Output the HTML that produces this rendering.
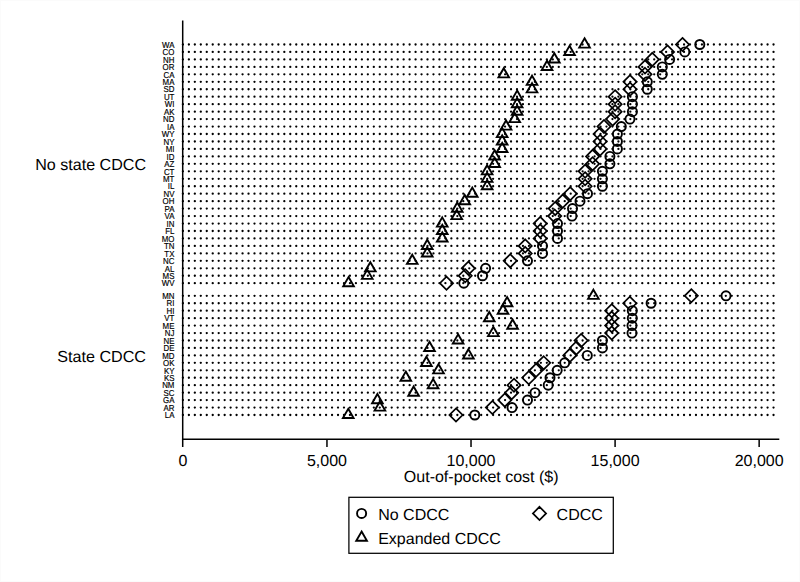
<!DOCTYPE html>
<html><head><meta charset="utf-8"><title>Out-of-pocket cost</title>
<style>
html,body{margin:0;padding:0;background:#fff;}
body{width:800px;height:582px;overflow:hidden;font-family:"Liberation Sans",sans-serif;}
svg{display:block;}
text{font-family:"Liberation Sans",sans-serif;fill:#000;text-rendering:geometricPrecision;}
.st{font-size:8px;text-anchor:end;stroke:#000;stroke-width:0.15px;}
.big{font-size:16px;}
.mk{fill:none;stroke:#000;stroke-linejoin:miter;}
</style></head><body>
<svg width="800" height="582" viewBox="0 0 800 582">
<rect x="0" y="0" width="800" height="582" fill="#fff"/>
<rect x="0.5" y="0.5" width="799" height="581" fill="none" stroke="#fbfbfb" stroke-width="1"/>

<g id="dotrows" stroke="#000" stroke-width="2.3" stroke-linecap="round" stroke-dasharray="0 5.966" fill="none">
<line x1="182.90" y1="44.50" x2="774.03" y2="44.50"/>
<line x1="182.90" y1="51.96" x2="774.03" y2="51.96"/>
<line x1="182.90" y1="59.42" x2="774.03" y2="59.42"/>
<line x1="182.90" y1="66.88" x2="774.03" y2="66.88"/>
<line x1="182.90" y1="74.34" x2="774.03" y2="74.34"/>
<line x1="182.90" y1="81.80" x2="774.03" y2="81.80"/>
<line x1="182.90" y1="89.26" x2="774.03" y2="89.26"/>
<line x1="182.90" y1="96.72" x2="774.03" y2="96.72"/>
<line x1="182.90" y1="104.18" x2="774.03" y2="104.18"/>
<line x1="182.90" y1="111.64" x2="774.03" y2="111.64"/>
<line x1="182.90" y1="119.10" x2="774.03" y2="119.10"/>
<line x1="182.90" y1="126.56" x2="774.03" y2="126.56"/>
<line x1="182.90" y1="134.02" x2="774.03" y2="134.02"/>
<line x1="182.90" y1="141.48" x2="774.03" y2="141.48"/>
<line x1="182.90" y1="148.94" x2="774.03" y2="148.94"/>
<line x1="182.90" y1="156.40" x2="774.03" y2="156.40"/>
<line x1="182.90" y1="163.86" x2="774.03" y2="163.86"/>
<line x1="182.90" y1="171.32" x2="774.03" y2="171.32"/>
<line x1="182.90" y1="178.78" x2="774.03" y2="178.78"/>
<line x1="182.90" y1="186.24" x2="774.03" y2="186.24"/>
<line x1="182.90" y1="193.70" x2="774.03" y2="193.70"/>
<line x1="182.90" y1="201.16" x2="774.03" y2="201.16"/>
<line x1="182.90" y1="208.62" x2="774.03" y2="208.62"/>
<line x1="182.90" y1="216.08" x2="774.03" y2="216.08"/>
<line x1="182.90" y1="223.54" x2="774.03" y2="223.54"/>
<line x1="182.90" y1="231.00" x2="774.03" y2="231.00"/>
<line x1="182.90" y1="238.46" x2="774.03" y2="238.46"/>
<line x1="182.90" y1="245.92" x2="774.03" y2="245.92"/>
<line x1="182.90" y1="253.38" x2="774.03" y2="253.38"/>
<line x1="182.90" y1="260.84" x2="774.03" y2="260.84"/>
<line x1="182.90" y1="268.30" x2="774.03" y2="268.30"/>
<line x1="182.90" y1="275.76" x2="774.03" y2="275.76"/>
<line x1="182.90" y1="283.22" x2="774.03" y2="283.22"/>
<line x1="182.90" y1="295.80" x2="774.03" y2="295.80"/>
<line x1="182.90" y1="303.25" x2="774.03" y2="303.25"/>
<line x1="182.90" y1="310.70" x2="774.03" y2="310.70"/>
<line x1="182.90" y1="318.15" x2="774.03" y2="318.15"/>
<line x1="182.90" y1="325.60" x2="774.03" y2="325.60"/>
<line x1="182.90" y1="333.05" x2="774.03" y2="333.05"/>
<line x1="182.90" y1="340.50" x2="774.03" y2="340.50"/>
<line x1="182.90" y1="347.95" x2="774.03" y2="347.95"/>
<line x1="182.90" y1="355.40" x2="774.03" y2="355.40"/>
<line x1="182.90" y1="362.85" x2="774.03" y2="362.85"/>
<line x1="182.90" y1="370.30" x2="774.03" y2="370.30"/>
<line x1="182.90" y1="377.75" x2="774.03" y2="377.75"/>
<line x1="182.90" y1="385.20" x2="774.03" y2="385.20"/>
<line x1="182.90" y1="392.65" x2="774.03" y2="392.65"/>
<line x1="182.90" y1="400.10" x2="774.03" y2="400.10"/>
<line x1="182.90" y1="407.55" x2="774.03" y2="407.55"/>
<line x1="182.90" y1="415.00" x2="774.03" y2="415.00"/>
</g>
<g stroke="#000" stroke-width="1.5" fill="none" stroke-linecap="butt">
<line x1="182.7" y1="20.5" x2="182.7" y2="447.1"/>
<line x1="181.95" y1="439.15" x2="779.3" y2="439.15"/>
<line x1="326.96" y1="439.15" x2="326.96" y2="447.1"/>
<line x1="471.02" y1="439.15" x2="471.02" y2="447.1"/>
<line x1="615.09" y1="439.15" x2="615.09" y2="447.1"/>
<line x1="759.15" y1="439.15" x2="759.15" y2="447.1"/>
</g>
<g class="st">
<text transform="translate(174.4 47.70) scale(0.985 1.07)">WA</text>
<text transform="translate(174.4 55.16) scale(0.985 1.07)">CO</text>
<text transform="translate(174.4 62.62) scale(0.985 1.07)">NH</text>
<text transform="translate(174.4 70.08) scale(0.985 1.07)">OR</text>
<text transform="translate(174.4 77.54) scale(0.985 1.07)">CA</text>
<text transform="translate(174.4 85.00) scale(0.985 1.07)">MA</text>
<text transform="translate(174.4 92.46) scale(0.985 1.07)">SD</text>
<text transform="translate(174.4 99.92) scale(0.985 1.07)">UT</text>
<text transform="translate(174.4 107.38) scale(0.985 1.07)">WI</text>
<text transform="translate(174.4 114.84) scale(0.985 1.07)">AK</text>
<text transform="translate(174.4 122.30) scale(0.985 1.07)">ND</text>
<text transform="translate(174.4 129.76) scale(0.985 1.07)">IA</text>
<text transform="translate(174.4 137.22) scale(0.985 1.07)">WY</text>
<text transform="translate(174.4 144.68) scale(0.985 1.07)">NY</text>
<text transform="translate(174.4 152.14) scale(0.985 1.07)">MI</text>
<text transform="translate(174.4 159.60) scale(0.985 1.07)">ID</text>
<text transform="translate(174.4 167.06) scale(0.985 1.07)">AZ</text>
<text transform="translate(174.4 174.52) scale(0.985 1.07)">CT</text>
<text transform="translate(174.4 181.98) scale(0.985 1.07)">MT</text>
<text transform="translate(174.4 189.44) scale(0.985 1.07)">IL</text>
<text transform="translate(174.4 196.90) scale(0.985 1.07)">NV</text>
<text transform="translate(174.4 204.36) scale(0.985 1.07)">OH</text>
<text transform="translate(174.4 211.82) scale(0.985 1.07)">PA</text>
<text transform="translate(174.4 219.28) scale(0.985 1.07)">VA</text>
<text transform="translate(174.4 226.74) scale(0.985 1.07)">IN</text>
<text transform="translate(174.4 234.20) scale(0.985 1.07)">FL</text>
<text transform="translate(174.4 241.66) scale(0.985 1.07)">MO</text>
<text transform="translate(174.4 249.12) scale(0.985 1.07)">TN</text>
<text transform="translate(174.4 256.58) scale(0.985 1.07)">TX</text>
<text transform="translate(174.4 264.04) scale(0.985 1.07)">NC</text>
<text transform="translate(174.4 271.50) scale(0.985 1.07)">AL</text>
<text transform="translate(174.4 278.96) scale(0.985 1.07)">MS</text>
<text transform="translate(174.4 286.42) scale(0.985 1.07)">WV</text>
<text transform="translate(174.4 299.00) scale(0.985 1.07)">MN</text>
<text transform="translate(174.4 306.45) scale(0.985 1.07)">RI</text>
<text transform="translate(174.4 313.90) scale(0.985 1.07)">HI</text>
<text transform="translate(174.4 321.35) scale(0.985 1.07)">VT</text>
<text transform="translate(174.4 328.80) scale(0.985 1.07)">ME</text>
<text transform="translate(174.4 336.25) scale(0.985 1.07)">NJ</text>
<text transform="translate(174.4 343.70) scale(0.985 1.07)">NE</text>
<text transform="translate(174.4 351.15) scale(0.985 1.07)">DE</text>
<text transform="translate(174.4 358.60) scale(0.985 1.07)">MD</text>
<text transform="translate(174.4 366.05) scale(0.985 1.07)">OK</text>
<text transform="translate(174.4 373.50) scale(0.985 1.07)">KY</text>
<text transform="translate(174.4 380.95) scale(0.985 1.07)">KS</text>
<text transform="translate(174.4 388.40) scale(0.985 1.07)">NM</text>
<text transform="translate(174.4 395.85) scale(0.985 1.07)">SC</text>
<text transform="translate(174.4 403.30) scale(0.985 1.07)">GA</text>
<text transform="translate(174.4 410.75) scale(0.985 1.07)">AR</text>
<text transform="translate(174.4 418.20) scale(0.985 1.07)">LA</text>
</g>
<g class="big">
<text transform="translate(146.00 169.60) scale(1.005 1.0)" text-anchor="end">No state CDCC</text>
<text transform="translate(146.00 361.60) scale(1.008 1.0)" text-anchor="end">State CDCC</text>
<text transform="translate(182.90 465.90) scale(1 1.0)" text-anchor="middle">0</text>
<text transform="translate(326.96 465.90) scale(1 1.0)" text-anchor="middle">5,000</text>
<text transform="translate(471.02 465.90) scale(1 1.0)" text-anchor="middle">10,000</text>
<text transform="translate(615.09 465.90) scale(1 1.0)" text-anchor="middle">15,000</text>
<text transform="translate(759.15 465.90) scale(1 1.0)" text-anchor="middle">20,000</text>
<text transform="translate(481.20 482.30) scale(1 1.0)" text-anchor="middle">Out-of-pocket cost ($)</text>
<text transform="translate(378.20 519.80) scale(1 1.0)" text-anchor="start">No CDCC</text>
<text transform="translate(556.60 519.80) scale(1 1.0)" text-anchor="start">CDCC</text>
<text transform="translate(378.20 543.80) scale(1 1.0)" text-anchor="start">Expanded CDCC</text>
</g>
<rect x="348.9" y="497.3" width="264.4" height="56" fill="none" stroke="#000" stroke-width="1.25"/>
<g class="mk" stroke-width="1.7">
<circle cx="699.80" cy="44.50" r="4.55" stroke-width="1.9"/>
<circle cx="684.80" cy="51.96" r="4.55" stroke-width="1.9"/>
<circle cx="669.60" cy="59.42" r="4.55" stroke-width="1.9"/>
<circle cx="662.30" cy="66.88" r="4.55" stroke-width="1.9"/>
<circle cx="662.30" cy="74.34" r="4.55" stroke-width="1.9"/>
<circle cx="647.30" cy="81.80" r="4.55" stroke-width="1.9"/>
<circle cx="647.30" cy="89.26" r="4.55" stroke-width="1.9"/>
<circle cx="632.40" cy="96.72" r="4.55" stroke-width="1.9"/>
<circle cx="632.40" cy="104.18" r="4.55" stroke-width="1.9"/>
<circle cx="632.40" cy="111.64" r="4.55" stroke-width="1.9"/>
<circle cx="629.95" cy="119.10" r="4.55" stroke-width="1.9"/>
<circle cx="621.30" cy="126.56" r="4.55" stroke-width="1.9"/>
<circle cx="617.40" cy="134.02" r="4.55" stroke-width="1.9"/>
<circle cx="617.40" cy="141.48" r="4.55" stroke-width="1.9"/>
<circle cx="617.40" cy="148.94" r="4.55" stroke-width="1.9"/>
<circle cx="609.90" cy="156.40" r="4.55" stroke-width="1.9"/>
<circle cx="609.90" cy="163.86" r="4.55" stroke-width="1.9"/>
<circle cx="602.40" cy="171.32" r="4.55" stroke-width="1.9"/>
<circle cx="602.40" cy="178.78" r="4.55" stroke-width="1.9"/>
<circle cx="602.40" cy="186.24" r="4.55" stroke-width="1.9"/>
<circle cx="587.50" cy="193.70" r="4.55" stroke-width="1.9"/>
<circle cx="580.00" cy="201.16" r="4.55" stroke-width="1.9"/>
<circle cx="572.50" cy="208.62" r="4.55" stroke-width="1.9"/>
<circle cx="572.00" cy="216.08" r="4.55" stroke-width="1.9"/>
<circle cx="557.50" cy="223.54" r="4.55" stroke-width="1.9"/>
<circle cx="557.50" cy="231.00" r="4.55" stroke-width="1.9"/>
<circle cx="557.50" cy="238.46" r="4.55" stroke-width="1.9"/>
<circle cx="542.50" cy="245.92" r="4.55" stroke-width="1.9"/>
<circle cx="542.50" cy="253.38" r="4.55" stroke-width="1.9"/>
<circle cx="527.50" cy="260.84" r="4.55" stroke-width="1.9"/>
<circle cx="485.60" cy="268.30" r="4.55" stroke-width="1.9"/>
<circle cx="482.50" cy="275.76" r="4.55" stroke-width="1.9"/>
<circle cx="463.80" cy="283.22" r="4.55" stroke-width="1.9"/>
<circle cx="726.00" cy="295.80" r="4.55" stroke-width="1.9"/>
<circle cx="651.10" cy="303.25" r="4.55" stroke-width="1.9"/>
<circle cx="632.30" cy="310.70" r="4.55" stroke-width="1.9"/>
<circle cx="632.30" cy="318.15" r="4.55" stroke-width="1.9"/>
<circle cx="632.00" cy="325.60" r="4.55" stroke-width="1.9"/>
<circle cx="632.00" cy="333.05" r="4.55" stroke-width="1.9"/>
<circle cx="602.40" cy="340.50" r="4.55" stroke-width="1.9"/>
<circle cx="602.40" cy="347.95" r="4.55" stroke-width="1.9"/>
<circle cx="587.30" cy="355.40" r="4.55" stroke-width="1.9"/>
<circle cx="564.70" cy="362.85" r="4.55" stroke-width="1.9"/>
<circle cx="557.20" cy="370.30" r="4.55" stroke-width="1.9"/>
<circle cx="550.00" cy="377.75" r="4.55" stroke-width="1.9"/>
<circle cx="548.20" cy="385.20" r="4.55" stroke-width="1.9"/>
<circle cx="535.00" cy="392.65" r="4.55" stroke-width="1.9"/>
<circle cx="527.50" cy="400.10" r="4.55" stroke-width="1.9"/>
<circle cx="512.00" cy="407.55" r="4.55" stroke-width="1.9"/>
<circle cx="474.80" cy="415.00" r="4.55" stroke-width="1.9"/>
<path d="M682.50 37.90L689.10 44.50L682.50 51.10L675.90 44.50Z"/>
<path d="M667.50 45.36L674.10 51.96L667.50 58.56L660.90 51.96Z"/>
<path d="M652.30 52.82L658.90 59.42L652.30 66.02L645.70 59.42Z"/>
<path d="M645.00 60.28L651.60 66.88L645.00 73.48L638.40 66.88Z"/>
<path d="M645.00 67.74L651.60 74.34L645.00 80.94L638.40 74.34Z"/>
<path d="M630.00 75.20L636.60 81.80L630.00 88.40L623.40 81.80Z"/>
<path d="M630.00 82.66L636.60 89.26L630.00 95.86L623.40 89.26Z"/>
<path d="M615.10 90.12L621.70 96.72L615.10 103.32L608.50 96.72Z"/>
<path d="M615.10 97.58L621.70 104.18L615.10 110.78L608.50 104.18Z"/>
<path d="M615.10 105.04L621.70 111.64L615.10 118.24L608.50 111.64Z"/>
<path d="M612.65 112.50L619.25 119.10L612.65 125.70L606.05 119.10Z"/>
<path d="M604.00 119.96L610.60 126.56L604.00 133.16L597.40 126.56Z"/>
<path d="M600.10 127.42L606.70 134.02L600.10 140.62L593.50 134.02Z"/>
<path d="M600.10 134.88L606.70 141.48L600.10 148.08L593.50 141.48Z"/>
<path d="M600.10 142.34L606.70 148.94L600.10 155.54L593.50 148.94Z"/>
<path d="M592.60 149.80L599.20 156.40L592.60 163.00L586.00 156.40Z"/>
<path d="M592.60 157.26L599.20 163.86L592.60 170.46L586.00 163.86Z"/>
<path d="M585.10 164.72L591.70 171.32L585.10 177.92L578.50 171.32Z"/>
<path d="M585.10 172.18L591.70 178.78L585.10 185.38L578.50 178.78Z"/>
<path d="M585.10 179.64L591.70 186.24L585.10 192.84L578.50 186.24Z"/>
<path d="M570.20 187.10L576.80 193.70L570.20 200.30L563.60 193.70Z"/>
<path d="M562.70 194.56L569.30 201.16L562.70 207.76L556.10 201.16Z"/>
<path d="M555.20 202.02L561.80 208.62L555.20 215.22L548.60 208.62Z"/>
<path d="M554.70 209.48L561.30 216.08L554.70 222.68L548.10 216.08Z"/>
<path d="M540.20 216.94L546.80 223.54L540.20 230.14L533.60 223.54Z"/>
<path d="M540.20 224.40L546.80 231.00L540.20 237.60L533.60 231.00Z"/>
<path d="M540.20 231.86L546.80 238.46L540.20 245.06L533.60 238.46Z"/>
<path d="M525.20 239.32L531.80 245.92L525.20 252.52L518.60 245.92Z"/>
<path d="M525.20 246.78L531.80 253.38L525.20 259.98L518.60 253.38Z"/>
<path d="M510.20 254.24L516.80 260.84L510.20 267.44L503.60 260.84Z"/>
<path d="M468.30 261.70L474.90 268.30L468.30 274.90L461.70 268.30Z"/>
<path d="M465.20 269.16L471.80 275.76L465.20 282.36L458.60 275.76Z"/>
<path d="M446.50 276.62L453.10 283.22L446.50 289.82L439.90 283.22Z"/>
<path d="M691.30 289.20L697.90 295.80L691.30 302.40L684.70 295.80Z"/>
<path d="M629.80 296.65L636.40 303.25L629.80 309.85L623.20 303.25Z"/>
<path d="M611.70 304.10L618.30 310.70L611.70 317.30L605.10 310.70Z"/>
<path d="M611.70 311.55L618.30 318.15L611.70 324.75L605.10 318.15Z"/>
<path d="M611.70 319.00L618.30 325.60L611.70 332.20L605.10 325.60Z"/>
<path d="M611.70 326.45L618.30 333.05L611.70 339.65L605.10 333.05Z"/>
<path d="M581.10 333.90L587.70 340.50L581.10 347.10L574.50 340.50Z"/>
<path d="M576.40 341.35L583.00 347.95L576.40 354.55L569.80 347.95Z"/>
<path d="M569.80 348.80L576.40 355.40L569.80 362.00L563.20 355.40Z"/>
<path d="M543.70 356.25L550.30 362.85L543.70 369.45L537.10 362.85Z"/>
<path d="M536.10 363.70L542.70 370.30L536.10 376.90L529.50 370.30Z"/>
<path d="M528.80 371.15L535.40 377.75L528.80 384.35L522.20 377.75Z"/>
<path d="M514.00 378.60L520.60 385.20L514.00 391.80L507.40 385.20Z"/>
<path d="M511.70 386.05L518.30 392.65L511.70 399.25L505.10 392.65Z"/>
<path d="M504.80 393.50L511.40 400.10L504.80 406.70L498.20 400.10Z"/>
<path d="M492.40 400.95L499.00 407.55L492.40 414.15L485.80 407.55Z"/>
<path d="M456.00 408.40L462.60 415.00L456.00 421.60L449.40 415.00Z"/>
<path d="M584.55 38.35L589.88 47.58L579.22 47.58Z" stroke-width="1.9"/>
<path d="M569.55 45.81L574.88 55.04L564.22 55.04Z" stroke-width="1.9"/>
<path d="M554.35 53.27L559.68 62.50L549.02 62.50Z" stroke-width="1.9"/>
<path d="M547.05 60.73L552.38 69.95L541.72 69.95Z" stroke-width="1.9"/>
<path d="M503.75 68.19L509.08 77.42L498.42 77.42Z" stroke-width="1.9"/>
<path d="M532.05 75.65L537.38 84.88L526.72 84.88Z" stroke-width="1.9"/>
<path d="M532.05 83.11L537.38 92.33L526.72 92.33Z" stroke-width="1.9"/>
<path d="M517.15 90.57L522.48 99.80L511.82 99.80Z" stroke-width="1.9"/>
<path d="M517.15 98.03L522.48 107.26L511.82 107.26Z" stroke-width="1.9"/>
<path d="M517.15 105.49L522.48 114.72L511.82 114.72Z" stroke-width="1.9"/>
<path d="M514.70 112.95L520.03 122.17L509.37 122.17Z" stroke-width="1.9"/>
<path d="M506.05 120.41L511.38 129.63L500.72 129.63Z" stroke-width="1.9"/>
<path d="M502.15 127.87L507.48 137.09L496.82 137.09Z" stroke-width="1.9"/>
<path d="M502.15 135.33L507.48 144.56L496.82 144.56Z" stroke-width="1.9"/>
<path d="M502.15 142.79L507.48 152.01L496.82 152.01Z" stroke-width="1.9"/>
<path d="M494.65 150.25L499.98 159.47L489.32 159.47Z" stroke-width="1.9"/>
<path d="M494.65 157.71L499.98 166.94L489.32 166.94Z" stroke-width="1.9"/>
<path d="M487.15 165.17L492.48 174.39L481.82 174.39Z" stroke-width="1.9"/>
<path d="M487.15 172.63L492.48 181.85L481.82 181.85Z" stroke-width="1.9"/>
<path d="M487.15 180.09L492.48 189.31L481.82 189.31Z" stroke-width="1.9"/>
<path d="M472.25 187.55L477.58 196.77L466.92 196.77Z" stroke-width="1.9"/>
<path d="M464.75 195.01L470.08 204.23L459.42 204.23Z" stroke-width="1.9"/>
<path d="M457.25 202.47L462.58 211.69L451.92 211.69Z" stroke-width="1.9"/>
<path d="M456.75 209.93L462.08 219.16L451.42 219.16Z" stroke-width="1.9"/>
<path d="M442.25 217.39L447.58 226.61L436.92 226.61Z" stroke-width="1.9"/>
<path d="M442.25 224.85L447.58 234.07L436.92 234.07Z" stroke-width="1.9"/>
<path d="M442.25 232.31L447.58 241.53L436.92 241.53Z" stroke-width="1.9"/>
<path d="M427.25 239.77L432.58 248.99L421.92 248.99Z" stroke-width="1.9"/>
<path d="M427.25 247.23L432.58 256.45L421.92 256.45Z" stroke-width="1.9"/>
<path d="M412.25 254.69L417.58 263.92L406.92 263.92Z" stroke-width="1.9"/>
<path d="M370.35 262.15L375.68 271.38L365.02 271.38Z" stroke-width="1.9"/>
<path d="M367.25 269.61L372.58 278.83L361.92 278.83Z" stroke-width="1.9"/>
<path d="M348.55 277.07L353.88 286.30L343.22 286.30Z" stroke-width="1.9"/>
<path d="M593.40 289.65L598.73 298.88L588.07 298.88Z" stroke-width="1.9"/>
<path d="M507.10 297.10L512.43 306.32L501.77 306.32Z" stroke-width="1.9"/>
<path d="M503.00 304.55L508.33 313.77L497.67 313.77Z" stroke-width="1.9"/>
<path d="M489.25 312.00L494.58 321.23L483.92 321.23Z" stroke-width="1.9"/>
<path d="M512.60 319.45L517.93 328.68L507.27 328.68Z" stroke-width="1.9"/>
<path d="M493.40 326.90L498.73 336.12L488.07 336.12Z" stroke-width="1.9"/>
<path d="M458.10 334.35L463.43 343.57L452.77 343.57Z" stroke-width="1.9"/>
<path d="M429.50 341.80L434.83 351.02L424.17 351.02Z" stroke-width="1.9"/>
<path d="M468.40 349.25L473.73 358.48L463.07 358.48Z" stroke-width="1.9"/>
<path d="M426.40 356.70L431.73 365.93L421.07 365.93Z" stroke-width="1.9"/>
<path d="M438.50 364.15L443.83 373.38L433.17 373.38Z" stroke-width="1.9"/>
<path d="M405.80 371.60L411.13 380.82L400.47 380.82Z" stroke-width="1.9"/>
<path d="M433.10 379.05L438.43 388.28L427.77 388.28Z" stroke-width="1.9"/>
<path d="M413.60 386.50L418.93 395.73L408.27 395.73Z" stroke-width="1.9"/>
<path d="M377.40 393.95L382.73 403.18L372.07 403.18Z" stroke-width="1.9"/>
<path d="M379.90 401.40L385.23 410.62L374.57 410.62Z" stroke-width="1.9"/>
<path d="M348.25 408.85L353.58 418.07L342.92 418.07Z" stroke-width="1.9"/>
<circle cx="361.60" cy="513.40" r="4.55" stroke-width="1.9"/>
<path d="M539.50 506.80L546.10 513.40L539.50 520.00L532.90 513.40Z"/>
<path d="M361.60 531.55L366.93 540.78L356.27 540.78Z" stroke-width="1.9"/>
</g>
</svg></body></html>
